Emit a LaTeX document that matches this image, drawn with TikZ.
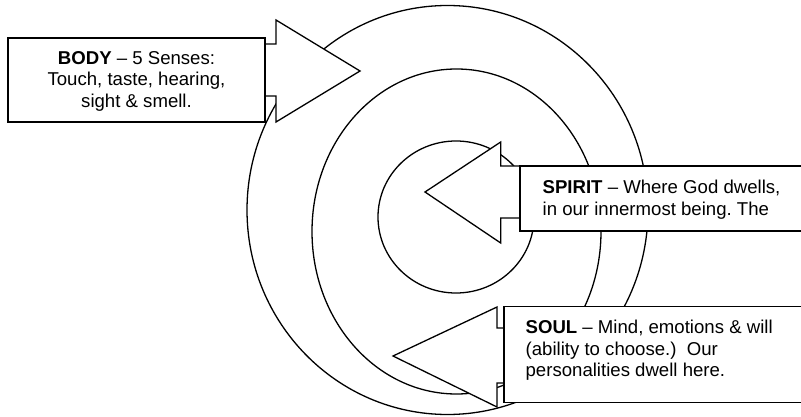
\documentclass[tikz,border=0pt]{standalone}
\usepackage{fontspec}
\setmainfont{Liberation Sans}
\frenchspacing
\begin{document}
\begin{tikzpicture}[x=1pt,y=-1pt,line width=1.3pt,
  callout/.style={draw=black,fill=white,line join=miter},
  lbl/.style={inner sep=0pt,font=\fontsize{18.6}{21.5}\selectfont}]
\useasboundingbox (0,0) rectangle (801,417);
\clip (0,0) rectangle (801,417);
% rings
\draw (447.5,210) ellipse [x radius=200.5, y radius=204.5];
\draw (456.5,231.5) ellipse [x radius=144.5, y radius=162.5];
\draw (456,217) ellipse [x radius=78, y radius=76];
% BODY callout
\draw[callout] (265,44) -- (276,44) -- (276,20) -- (360,71) -- (276,122) -- (276,96) -- (265,96);
\draw[callout] (8,38) rectangle (265,122);
\node[lbl,anchor=north,align=center] (bodytext) at (136.5,50.8)
  {\textbf{BODY} – 5 Senses:\\Touch, taste, hearing,\\sight \& smell.};
% SPIRIT callout
\draw[callout] (520,166) -- (500.7,166) -- (500.7,142) -- (425,192) -- (500.7,243) -- (500.7,218) -- (520,218);
\draw[callout] (520,166) rectangle (815,231);
\node[lbl,anchor=north west,align=left] (spirittext) at (542,179.4)
  {\textbf{SPIRIT} – Where God dwells,\\in our innermost being. The};
% SOUL callout
\draw[callout] (504,328) -- (497,328) -- (497,307) -- (393,356) -- (497,407) -- (497,383) -- (504,383);
\draw[callout] (504,306.5) rectangle (815,402.5);
\node[lbl,anchor=north west,align=left] (soultext) at (525,319.4)
  {\textbf{SOUL} – Mind, emotions \& will\\(ability to choose.)\ \ Our\\personalities dwell here.};
\end{tikzpicture}
\end{document}
